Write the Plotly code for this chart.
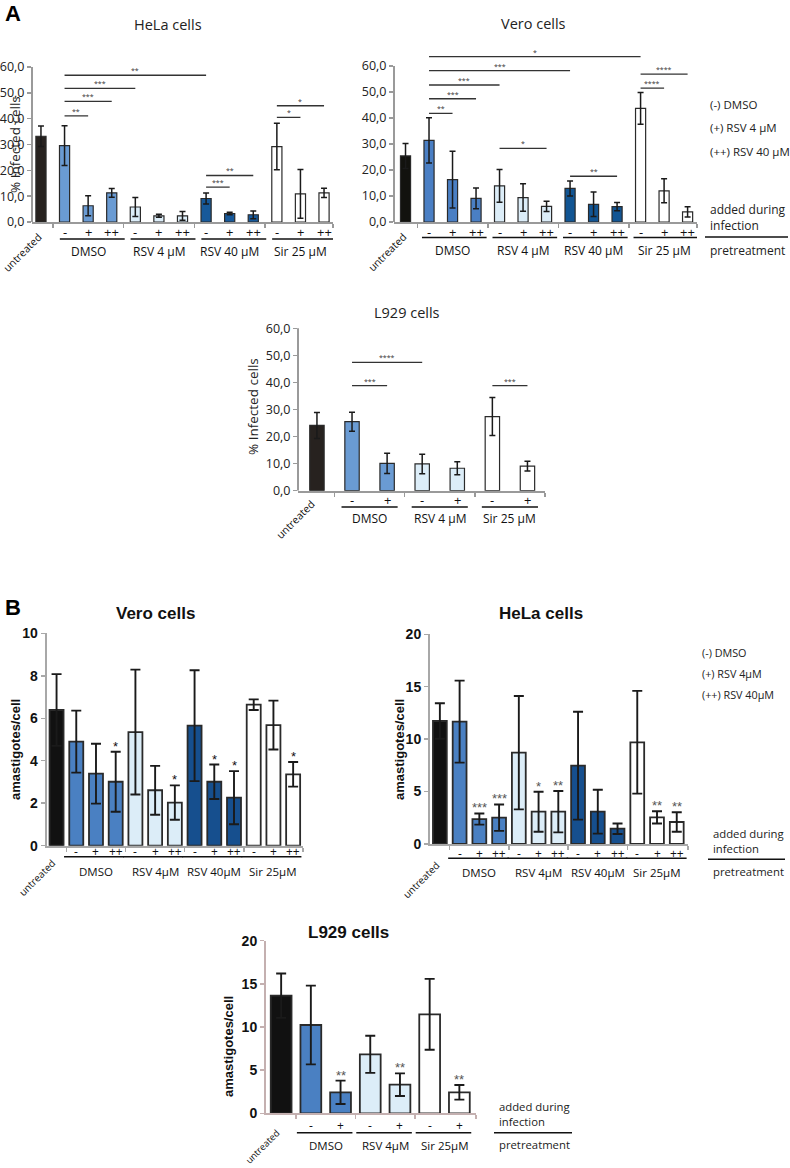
import plotly.graph_objects as go

W, H = 790, 1168

# ---------------- labels ----------------
untreated_label = "untreated"
during_three = ["-", "+", "++"]
during_two = ["-", "+"]
pre_A_four = ["DMSO", "RSV 4 µM", "RSV 40 µM", "Sir 25 µM"]
pre_A_three = ["DMSO", "RSV 4 µM", "Sir 25 µM"]
pre_B_four = ["DMSO", "RSV 4µM", "RSV 40µM", "Sir 25µM"]
pre_B_three = ["DMSO", "RSV 4µM", "Sir 25µM"]
legend_A = ["(-) DMSO", "(+) RSV 4 µM", "(++) RSV 40 µM"]
legend_B = ["(-) DMSO", "(+) RSV 4µM", "(++) RSV 40µM"]
added_label = "added during<br>infection"
pretreat_label = "pretreatment"

# ---------------- A: % infected cells ----------------
percent_ticks = [0, 10, 20, 30, 40, 50, 60]

hela_A_mean = [33.2, 29.6, 6.3, 11.3, 5.8, 2.4, 2.4, 9.1, 3.3, 2.8, 29.2, 10.9, 11.3]
hela_A_sd = [4.0, 7.7, 3.9, 1.7, 3.7, 0.6, 1.7, 2.1, 0.5, 1.5, 9.0, 9.4, 1.8]
hela_A_sig = [(1, 7, 56.8, "**"), (1, 4, 51.7, "***"), (1, 3, 46.7, "***"),
              (1, 2, 41.1, "**"), (7, 9, 18.0, "**"), (7, 8, 13.5, "***"),
              (10, 12, 45.0, "*"), (10, 11, 40.5, "*")]

vero_A_mean = [25.4, 31.4, 16.3, 9.1, 13.9, 9.4, 6.0, 12.9, 6.8, 5.9, 43.7, 12.0, 3.9]
vero_A_sd = [4.8, 8.7, 10.9, 4.0, 6.3, 5.3, 2.0, 2.9, 4.7, 1.6, 6.1, 4.6, 2.0]
vero_A_sig = [(1, 10, 63.6, "*"), (1, 7, 58.2, "***"), (1, 4, 52.7, "***"),
              (1, 3, 47.4, "***"), (1, 2, 41.8, "**"), (4, 6, 28.3, "*"),
              (7, 9, 17.6, "**"), (10, 12, 56.9, "****"), (10, 11, 51.5, "****")]

l929_A_mean = [24.1, 25.5, 10.1, 9.9, 8.3, 27.4, 9.1]
l929_A_sd = [4.8, 3.5, 3.7, 3.6, 2.4, 7.0, 1.8]
l929_A_sig = [(1, 3, 47.4, "****"), (1, 2, 38.8, "***"), (5, 6, 38.8, "***")]

# ---------------- B: amastigotes / cell ----------------
vero_B_ticks = [0, 2, 4, 6, 8, 10]
vero_B_mean = [6.39, 4.90, 3.39, 3.01, 5.35, 2.61, 2.03, 5.65, 3.01, 2.26, 6.64, 5.68, 3.36]
vero_B_sd = [1.69, 1.46, 1.41, 1.41, 2.94, 1.15, 0.81, 2.61, 0.81, 1.25, 0.25, 1.15, 0.58]
vero_B_stars = ["", "", "", "*", "", "", "*", "", "*", "*", "", "", "*"]

hela_B_ticks = [0, 5, 10, 15, 20]
hela_B_mean = [11.73, 11.67, 2.38, 2.51, 8.71, 3.08, 3.08, 7.47, 3.08, 1.46, 9.70, 2.54, 2.10]
hela_B_sd = [1.69, 3.91, 0.53, 1.26, 5.41, 1.91, 1.97, 5.15, 2.09, 0.50, 4.90, 0.58, 0.93]
hela_B_stars = ["", "", "***", "***", "", "*", "**", "", "", "", "", "**", "**"]

l929_B_ticks = [0, 5, 10, 15, 20]
l929_B_mean = [13.63, 10.23, 2.43, 6.83, 3.32, 11.47, 2.43]
l929_B_sd = [2.57, 4.56, 1.36, 2.15, 1.31, 4.11, 0.85]
l929_B_stars = ["", "", "**", "", "**", "", "**"]

# ---------------- styling ----------------
UNT_A, DMSO_A, RSV4_C, RSV40_A, SIR_C = "#27221f", "#6a9bd3", "#dcedf8", "#17599a", "#ffffff"
UNT_B, DMSO_B, RSV40_B = "#111111", "#4a80c2", "#164f8e"
FA = "Open Sans"
FB = "Liberation Sans"

panels = [
    dict(mean=hela_A_mean, sd=hela_A_sd, sig=hela_A_sig, stars=None,
         pre=pre_A_four, dur=during_three, pal=[UNT_A, DMSO_A, RSV4_C, RSV40_A, SIR_C],
         title="HeLa cells", kind="A", ticks=percent_ticks, yextra=66,
         x0=32, x1=333, ybot=222, ytop=67, xr=(-0.38, 12.38), bw=0.43,
         title_xy=(168, 25), ytitle="% Infected cells", ytitle_xy=(15, 145),
         sym_y=232, line_y=239, name_y=252, gl=(-0.2, 0.55), unt=(7, 227), ufs=10.5),
    dict(mean=vero_A_mean, sd=vero_A_sd, sig=vero_A_sig, stars=None,
         pre=pre_A_four, dur=during_three, pal=["#12120e", "#4a7fc4", RSV4_C, "#125593", SIR_C],
         title="Vero cells", kind="A", ticks=percent_ticks, yextra=66,
         x0=394, x1=697, ybot=222, ytop=66, xr=(-0.49, 12.4), bw=0.43,
         title_xy=(533, 24), ytitle=None, ytitle_xy=None,
         sym_y=232, line_y=237.5, name_y=250, gl=(-0.3, 0.45), unt=(7, 227), ufs=10.5,
         legend=legend_A, legend_xy=(708, [104, 127, 151]),
         added_xy=(708, 217.5, 237, 788, 250)),
    dict(mean=l929_A_mean, sd=l929_A_sd, sig=l929_A_sig, stars=None,
         pre=pre_A_three, dur=during_two, pal=[UNT_A, DMSO_A, RSV4_C, SIR_C],
         title="L929 cells", kind="A", ticks=percent_ticks, yextra=66,
         x0=298, x1=545, ybot=490.7, ytop=328.3, xr=(-0.54, 6.5), bw=0.41,
         title_xy=(407, 313), ytitle="% Infected cells", ytitle_xy=(253, 407),
         sym_y=500, line_y=507, name_y=518.5, gl=(-0.3, 0.3), unt=(4, 494), ufs=10.5),
    dict(mean=vero_B_mean, sd=vero_B_sd, sig=None, stars=vero_B_stars,
         pre=pre_B_four, dur=during_three, pal=[UNT_B, DMSO_B, RSV4_C, RSV40_B, SIR_C],
         title="Vero cells", kind="B", ticks=vero_B_ticks, yextra=10, starcol="#111111",
         x0=46.7, x1=303, ybot=845.7, ytop=633.3, xr=(-0.5, 12.5), bw=0.71,
         title_xy=(155, 613), ytitle="amastigotes/cell", ytitle_xy=(15, 750),
         sym_y=851.5, line_y=856.7, name_y=871, gl=(-0.62, 0.42), unt=(4, 854), ufs=10,
         axcol="#a8a8a8"),
    dict(mean=hela_B_mean, sd=hela_B_sd, sig=None, stars=hela_B_stars,
         pre=pre_B_four, dur=during_three, pal=[UNT_B, DMSO_B, RSV4_C, RSV40_B, SIR_C],
         title="HeLa cells", kind="B", ticks=hela_B_ticks, yextra=20, starcol="#555555",
         x0=430, x1=688, ybot=844, ytop=634.3, xr=(-0.5, 12.57), bw=0.7,
         title_xy=(541, 613), ytitle="amastigotes/cell", ytitle_xy=(399, 750),
         sym_y=853, line_y=858.3, name_y=872, gl=(-0.58, 0.5), unt=(5, 856), ufs=10,
         axcol="#a8a8a8",
         legend=legend_B, legend_xy=(700, [652, 673, 694]),
         added_xy=(711, 841, 859.3, 785, 871)),
    dict(mean=l929_B_mean, sd=l929_B_sd, sig=None, stars=l929_B_stars,
         pre=pre_B_three, dur=during_two, pal=[UNT_B, DMSO_B, RSV4_C, SIR_C],
         title="L929 cells", kind="B", ticks=l929_B_ticks, yextra=20, starcol="#555555",
         x0=266, x1=476, ybot=1113.3, ytop=940.7, xr=(-0.51, 6.56), bw=0.7,
         title_xy=(348, 933), ytitle="amastigotes/cell", ytitle_xy=(228, 1047),
         sym_y=1125, line_y=1132.7, name_y=1145, gl=(-0.47, 0.4), unt=(4, 1124), ufs=9.3,
         axcol="#c4b0b0",
         added_xy=(497, 1114, 1132.7, 572, 1144)),
]


def px(x):
    return x / W


def py(y):
    return 1 - y / H


fig = go.Figure()
annotations = []
shapes = []
layout_axes = {}

for k, c in enumerate(panels, start=1):
    sfx = "" if k == 1 else str(k)
    xref, yref = "x" + sfx, "y" + sfx
    isA = c["kind"] == "A"
    n = len(c["mean"])
    nd = len(c["dur"])
    colors = [c["pal"][0]] + [col for col in c["pal"][1:] for _ in range(nd)]
    vmax = c["ticks"][-1]
    ytop_px = c["ybot"] - (c["ybot"] - c["ytop"]) * c["yextra"] / vmax

    fig.add_trace(go.Bar(
        x=list(range(n)), y=c["mean"], width=c["bw"],
        marker=dict(color=colors, line=dict(color="#2a2a2a", width=1.2 if isA else 1.8)),
        error_y=dict(type="data", array=c["sd"], visible=True, color="#1a1a1a",
                     thickness=1.5 if isA else 1.9, width=3 if isA else 5),
        xaxis=xref, yaxis=yref, showlegend=False, hoverinfo="skip"))

    boundaries = [0.5 + i * nd for i in range(len(c["pre"]))] + [c["xr"][1]]
    layout_axes["xaxis" + sfx] = dict(
        domain=[px(c["x0"]), px(c["x1"])], range=list(c["xr"]), anchor=yref,
        showline=True, linecolor=c.get("axcol", "#9a9a9a"), linewidth=2,
        tickvals=boundaries, ticks="outside", ticklen=4, tickwidth=1.5,
        tickcolor=c.get("axcol", "#9a9a9a"), automargin=False,
        showticklabels=False, showgrid=False, zeroline=False, fixedrange=True)
    if isA:
        tt = [f"{v:.1f}".replace(".", ",") for v in c["ticks"]]
        tfont = dict(family=FA, size=12.5, color="#222")
    else:
        tt = [str(v) for v in c["ticks"]]
        tfont = dict(family=FB, size=14, color="#111", weight="bold")
    layout_axes["yaxis" + sfx] = dict(
        domain=[py(c["ybot"]), py(ytop_px)], range=[0, c["yextra"]], anchor=xref,
        showline=not isA, linecolor=c.get("axcol", "#9a9a9a"), linewidth=2,
        tickvals=c["ticks"], ticktext=tt, ticks="outside", ticklen=4, tickwidth=1.5,
        tickcolor=c.get("axcol", "#9a9a9a"), tickfont=tfont, automargin=False,
        showgrid=False, zeroline=False, fixedrange=True)
    if isA:
        # y-axis line stops at the top tick
        shapes.append(dict(type="line", xref=xref + " domain", yref=yref,
                           x0=0, x1=0, y0=0, y1=vmax,
                           line=dict(color="#9a9a9a", width=2)))

    # significance brackets (A)
    if c["sig"]:
        for i, j, lev, lab in c["sig"]:
            shapes.append(dict(type="line", xref=xref, yref=yref, x0=i, x1=j,
                               y0=lev, y1=lev, line=dict(color="#333", width=1.3)))
            annotations.append(dict(x=(i + j) / 2, y=lev, xref=xref, yref=yref,
                                    text=lab, showarrow=False, xanchor="center",
                                    yanchor="bottom", yshift=-2,
                                    font=dict(family=FA, size=7, color="#333")))
    # stars over bars (B)
    if c["stars"]:
        for i, s in enumerate(c["stars"]):
            if s:
                annotations.append(dict(x=i, y=c["mean"][i] + c["sd"][i], xref=xref, yref=yref,
                                        text=s, showarrow=False, xanchor="center",
                                        yanchor="bottom", yshift=-4,
                                        font=dict(family=FB, size=13, color=c["starcol"])))

    # title
    if isA:
        ttext, tf = c["title"], dict(family=FA, size=14.5, color="#222")
    else:
        ttext, tf = "<b>" + c["title"] + "</b>", dict(family=FB, size=17, color="#111")
    annotations.append(dict(x=px(c["title_xy"][0]), y=py(c["title_xy"][1]), xref="paper",
                            yref="paper", text=ttext, showarrow=False,
                            xanchor="center", yanchor="middle", font=tf))
    # y title
    if c["ytitle"]:
        if isA:
            yt, yf = c["ytitle"], dict(family=FA, size=13.5, color="#222")
        else:
            yt, yf = "<b>" + c["ytitle"] + "</b>", dict(family=FB, size=13, color="#111")
        annotations.append(dict(x=px(c["ytitle_xy"][0]), y=py(c["ytitle_xy"][1]),
                                xref="paper", yref="paper", text=yt, textangle=-90,
                                xanchor="center", yanchor="middle",
                                showarrow=False, font=yf))

    lab_font = dict(family=FA, size=12 if isA else 11.5, color="#111")
    sym_font = dict(family=FA, size=13 if isA else 12, color="#111")
    # untreated
    annotations.append(dict(x=0, y=py(c["unt"][1]), xref=xref, yref="paper",
                            xshift=c["unt"][0], text=untreated_label, textangle=-45,
                            xanchor="right", yanchor="top", showarrow=False,
                            font=dict(family=FA, size=c["ufs"], color="#111")))
    # groups
    for g, name in enumerate(c["pre"]):
        start = 1 + g * nd
        end = start + nd - 1
        for d, sym in enumerate(c["dur"]):
            annotations.append(dict(x=start + d, y=py(c["sym_y"]), xref=xref, yref="paper",
                                    text=sym, showarrow=False, xanchor="center",
                                    yanchor="middle", font=sym_font))
        shapes.append(dict(type="line", xref=xref, yref="paper",
                           x0=start + c["gl"][0], x1=end + c["gl"][1],
                           y0=py(c["line_y"]), y1=py(c["line_y"]),
                           line=dict(color="#111", width=1.5)))
        annotations.append(dict(x=(start + end) / 2, y=py(c["name_y"]), xref=xref,
                                yref="paper", text=name, showarrow=False,
                                xanchor="center", yanchor="middle", font=lab_font))

    # legends on the right
    side_size = 11.5 if isA else 10.8
    if c.get("legend"):
        lx, lys = c["legend_xy"]
        for t, ly in zip(c["legend"], lys):
            annotations.append(dict(x=px(lx), y=py(ly), xref="paper", yref="paper", text=t,
                                    showarrow=False, xanchor="left", yanchor="middle",
                                    font=dict(family=FA, size=side_size, color="#222")))
    if c.get("added_xy"):
        ax_, ay, aline, aend, apre = c["added_xy"]
        annotations.append(dict(x=px(ax_), y=py(ay), xref="paper", yref="paper",
                                text=added_label, align="left",
                                showarrow=False, xanchor="left", yanchor="middle",
                                font=dict(family=FA, size=side_size + 0.5, color="#222")))
        shapes.append(dict(type="line", xref="paper", yref="paper", x0=px(ax_ - 3),
                           x1=px(aend), y0=py(aline), y1=py(aline),
                           line=dict(color="#111", width=1.5)))
        annotations.append(dict(x=px(ax_), y=py(apre), xref="paper", yref="paper",
                                text=pretreat_label, showarrow=False, xanchor="left",
                                yanchor="middle",
                                font=dict(family=FA, size=side_size + 0.5, color="#222")))

# panel letters
annotations.append(dict(x=px(3), y=py(13), xref="paper", yref="paper", text="<b>A</b>",
                        showarrow=False, xanchor="left", yanchor="middle",
                        font=dict(family=FB, size=22, color="#000")))
annotations.append(dict(x=px(3), y=py(607), xref="paper", yref="paper", text="<b>B</b>",
                        showarrow=False, xanchor="left", yanchor="middle",
                        font=dict(family=FB, size=22, color="#000")))

fig.update_layout(
    width=W, height=H, autosize=False,
    margin=dict(l=0, r=0, t=0, b=0, pad=0, autoexpand=False),
    paper_bgcolor="white", plot_bgcolor="rgba(0,0,0,0)",
    showlegend=False, annotations=annotations, shapes=shapes, bargap=0,
    **layout_axes)

fig.write_html("out.html",
               config={"displayModeBar": False, "staticPlot": True, "responsive": False},
               post_script="document.body.style.margin='0';"
                           "document.documentElement.style.overflow='hidden';")
